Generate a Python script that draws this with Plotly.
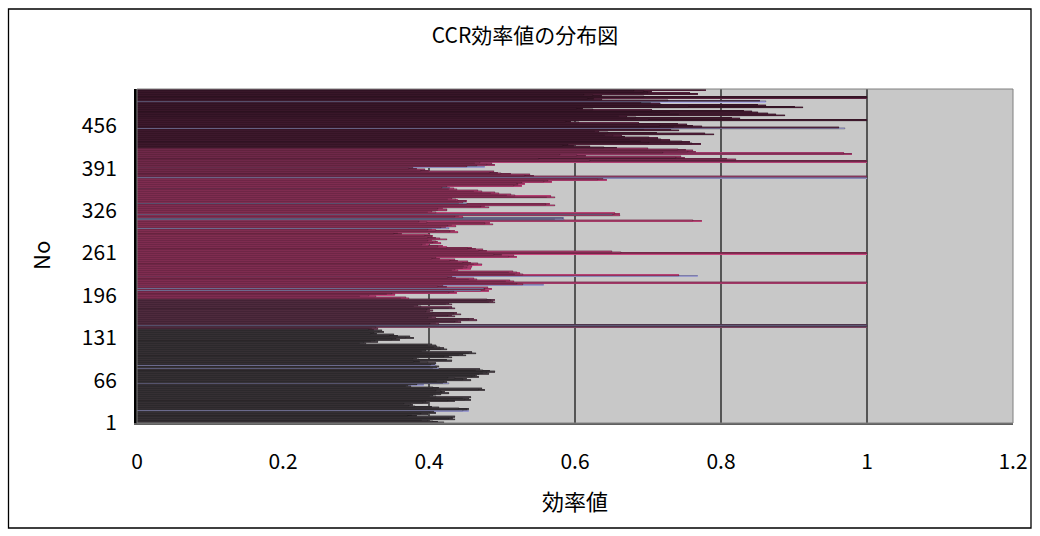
import plotly.graph_objects as go

# CCR efficiency scores by DMU number, listed from No.1 upward in blocks
eff_a = [0.420, 0.412, 0.405, 0.398, 0.391, 0.436, 0.428, 0.433, 0.431, 0.436,
         0.383, 0.371, 0.377, 0.398, 0.389, 0.410, 0.402, 0.407, 0.455, 0.447,
         0.452, 0.455, 0.441, 0.414, 0.404, 0.381, 0.372, 0.378, 0.375, 0.366,
         0.400, 0.392, 0.396, 0.435, 0.426, 0.458, 0.449, 0.455, 0.446, 0.458,
         0.410, 0.401, 0.405, 0.417, 0.409, 0.427, 0.418, 0.422, 0.417, 0.410]
eff_b = [0.477, 0.468, 0.472, 0.414, 0.405, 0.375, 0.368, 0.371, 0.393, 0.384,
         0.427, 0.419, 0.424, 0.420, 0.411, 0.458, 0.447, 0.452, 0.435, 0.426,
         0.468, 0.459, 0.463, 0.466, 0.468, 0.482, 0.474, 0.479, 0.491, 0.483,
         0.474, 0.465, 0.470, 0.414, 0.406, 0.411, 0.414, 0.402, 0.410, 0.403,
         0.408, 0.410, 0.399, 0.387, 0.379, 0.432, 0.424]
eff_c = [0.386, 0.378, 0.383, 0.432, 0.421, 0.428, 0.450, 0.441, 0.446, 0.464,
         0.455, 0.459, 0.400, 0.391, 0.396, 0.425, 0.416, 0.421, 0.415, 0.407,
         0.411, 0.409, 0.398, 0.404, 0.314, 0.306, 0.311, 0.330, 0.321, 0.326,
         0.360, 0.349, 0.355, 0.379, 0.368, 0.374, 0.357, 0.347, 0.352, 0.329,
         0.320, 0.325, 0.338, 0.331, 0.335, 0.324, 0.318]
eff_d = [0.330, 0.322, 0.327, 1.000, 1.000, 1.000, 1.000, 0.414, 0.402, 0.409,
         0.444, 0.435, 0.440, 0.466, 0.455, 0.461, 0.409, 0.398, 0.404, 0.435,
         0.426, 0.431, 0.444, 0.434, 0.439, 0.405, 0.396, 0.401, 0.406, 0.397,
         0.402, 0.436, 0.427, 0.432, 0.389, 0.380, 0.385, 0.432, 0.423, 0.428,
         0.491, 0.482, 0.487, 0.485, 0.491, 0.479]
eff_e = [0.373, 0.362, 0.368, 0.327, 0.305, 0.318, 0.354, 0.343, 0.349, 0.439,
         0.428, 0.434, 0.482, 0.471, 0.477, 0.486, 0.475, 0.481, 0.424, 0.413,
         0.419, 0.557, 0.529, 0.521, 1.000, 1.000, 0.517, 0.505, 0.511, 0.466,
         0.455, 0.461, 0.437, 0.426, 0.432, 0.769, 0.742, 0.529, 0.518, 0.524,
         0.521, 0.510, 0.515, 0.440, 0.431, 0.436]
eff_f = [0.458, 0.447, 0.452, 0.459, 0.448, 0.454, 0.472, 0.461, 0.467, 0.458,
         0.447, 0.453, 0.440, 0.429, 0.435, 0.415, 0.404, 0.410, 0.521, 0.510,
         0.516, 0.500, 0.489, 1.000, 1.000, 0.663, 0.650, 0.479, 0.468, 0.474,
         0.464, 0.453, 0.459, 0.424, 0.413, 0.419, 0.400, 0.391, 0.396, 0.417,
         0.406, 0.412, 0.409, 0.398, 0.404, 0.424, 0.415]
eff_g = [0.409, 0.398, 0.404, 0.406, 0.395, 0.401, 0.363, 0.352, 0.358, 0.440,
         0.429, 0.435, 0.409, 0.398, 0.404, 0.428, 0.417, 0.423, 0.437, 0.426,
         0.432, 0.488, 0.477, 0.483, 0.397, 0.386, 0.774, 0.762, 0.585, 0.572,
         0.583, 0.585, 0.446, 0.435, 0.441, 0.662, 0.652, 0.662, 0.655, 0.409,
         0.398, 0.404, 0.424, 0.413]
eff_h = [0.424, 0.413, 0.419, 0.482, 0.471, 0.477, 0.573, 0.560, 0.566, 0.452,
         0.441, 0.447, 0.450, 0.452, 0.440, 0.437, 0.426, 0.432, 0.573, 0.561,
         0.567, 0.518, 0.507, 0.513, 0.496, 0.485, 0.491, 0.472, 0.461, 0.467,
         0.439, 0.428, 0.434, 0.429, 0.418, 0.424, 0.527, 0.516, 0.522, 0.532,
         0.521, 0.527, 0.568, 0.557, 0.563, 0.644, 0.632, 0.638]
eff_i = [1.000, 1.000, 1.000, 0.544, 0.531, 0.538, 0.512, 0.498, 0.494, 0.483,
         0.489, 0.400, 0.389, 0.395, 0.383, 0.372, 0.378, 0.477, 0.452, 0.466,
         0.491, 0.480, 0.486, 0.463, 0.470, 1.000, 1.000, 0.620, 0.820, 0.808,
         0.550, 0.750, 0.738, 0.745, 0.615, 0.603, 0.580, 0.979, 0.968, 0.720,
         0.766, 0.755, 0.761, 0.752, 0.741, 0.700]
eff_j = [0.657, 0.640, 0.621, 0.598, 0.583, 0.590, 0.772, 0.760, 0.701, 0.758,
         0.746, 0.690, 0.730, 0.718, 0.675, 0.714, 0.702, 0.668, 0.664, 0.652,
         0.641, 0.790, 0.778, 0.712, 0.645, 0.633, 0.628, 0.742, 0.731, 0.694,
         0.970, 0.962, 0.735, 0.774, 0.762, 0.716, 0.753, 0.741, 0.688, 0.605,
         0.594, 0.587, 1.000, 1.000, 0.702, 0.826, 0.815]
eff_k = [0.684, 0.671, 0.660, 0.888, 0.876, 0.742, 0.864, 0.851, 0.730, 0.843,
         0.831, 0.705, 0.624, 0.611, 0.603, 0.913, 0.902, 0.756, 0.861, 0.850,
         0.718, 0.716, 0.704, 0.690, 0.861, 0.853, 0.727, 0.637, 0.626, 0.618,
         1.000, 1.000, 0.694, 0.637, 0.625, 0.612, 0.769, 0.757, 0.700, 0.706,
         0.694, 0.681, 0.780, 0.772]

blocks = [eff_a, eff_b, eff_c, eff_d, eff_e, eff_f, eff_g, eff_h, eff_i, eff_j, eff_k]

# fill tone for each block (bottom to top)
block_fill = ["#5e565c", "#5e565c", "#5e565c", "#8a4c6c", "#e0508f", "#e0508f",
              "#e4538f", "#e0508f", "#c44882", "#6e2c4f", "#662848"]
# bars inside a block drawn in the lighter periwinkle tone (0-based positions)
block_light = [[18, 19], [8, 10, 33, 34, 38], [], [4, 5], [13, 16, 21, 35],
               [], [15, 28, 29, 30, 31, 36], [9, 33], [0, 1, 17], [30], [24]]

efficiency = []
colors = []
for vals, fill, light in zip(blocks, block_fill, block_light):
    for i, v in enumerate(vals):
        efficiency.append(v)
        colors.append("#c0c0ff" if i in light else fill)

n = len(efficiency)
dmu_no = list(range(1, n + 1))
y_ticks = [1, 66, 131, 196, 261, 326, 391, 456]
x_ticks = [0, 0.2, 0.4, 0.6, 0.8, 1.0, 1.2]

fig = go.Figure()
# solid backing layer so the thin rows fully cover the gridlines
fig.add_trace(go.Bar(
    x=efficiency, y=dmu_no, orientation="h",
    marker=dict(color=colors, line=dict(width=0)),
    hoverinfo="skip",
))
# outlined bars
fig.add_trace(go.Bar(
    x=efficiency, y=dmu_no, orientation="h",
    marker=dict(color=colors, line=dict(color="#000000", width=0.3)),
))

FONT = "Noto Sans CJK JP, sans-serif"
L, R, T, B = 137, 27, 89, 113
PW, PH = 1040 - L - R, 536 - T - B

def px_x(p):
    return (p - L) / PW

def px_y(p):
    return (536 - B - p) / PH

fig.update_layout(
    width=1040,
    height=536,
    margin=dict(l=L, r=R, t=T, b=B),
    paper_bgcolor="#ffffff",
    plot_bgcolor="#c8c8c8",
    barmode="overlay",
    bargap=0,
    showlegend=False,
    font=dict(family=FONT, size=21, color="#000000"),
    title=dict(text="CCR効率値の分布図", xref="container", x=525 / 1040, xanchor="center",
               yref="container", y=1 - 36 / 536, yanchor="middle",
               font=dict(family=FONT, size=21, color="#000000")),
    xaxis=dict(range=[0, 1.2], tickvals=x_ticks, ticktext=["0", "0.2", "0.4", "0.6", "0.8", "1", "1.2"],
               showgrid=True, gridcolor="#555555", gridwidth=1.5,
               showline=True, linecolor="#606060", linewidth=1.5,
               ticks="", zeroline=False, ticklabelstandoff=19,
               tickfont=dict(family=FONT, size=21)),
    yaxis=dict(range=[0.5, n + 0.5], tickvals=y_ticks, showgrid=False,
               showline=True, linecolor="#000000", linewidth=3,
               ticks="", zeroline=False, ticklabelstandoff=13,
               tickfont=dict(family=FONT, size=21)),
    annotations=[
        dict(text="効率値", xref="paper", yref="paper", x=px_x(575), y=px_y(500),
             xanchor="center", yanchor="middle", showarrow=False,
             font=dict(family=FONT, size=22)),
        dict(text="No", xref="paper", yref="paper", x=px_x(40), y=px_y(256),
             xanchor="center", yanchor="middle", showarrow=False, textangle=-90,
             font=dict(family=FONT, size=22)),
    ],
    shapes=[
        # plot area frame
        dict(type="rect", xref="paper", yref="paper", x0=0, x1=1, y0=0, y1=1,
             line=dict(color="#808080", width=1), layer="above"),
        # outer chart frame
        dict(type="rect", xref="paper", yref="paper",
             x0=px_x(8.5), x1=px_x(1031), y0=px_y(528), y1=px_y(9),
             line=dict(color="#000000", width=1.3)),
    ],
)

fig.write_html("out.html")
